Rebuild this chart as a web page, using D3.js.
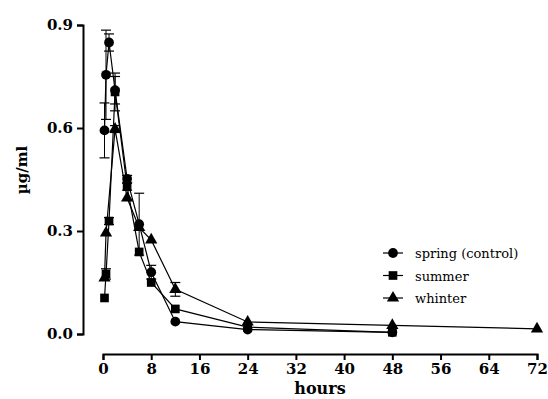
<!DOCTYPE html>
<html>
<head>
<meta charset="utf-8">
<script src="https://cdn.jsdelivr.net/npm/d3@7"></script>
<style>
  body { margin: 0; background: #fff; }
  .tick text { font-weight: bold; font-size: 15px; fill: #000; }
  .domain, .tick line { stroke: #000; stroke-width: 2px; }
</style>
</head>
<body>
<div id="chart"></div>
<script>
// time points (hours) and mean concentration (µg/ml) per season
var springTimes = [0.25, 0.5, 1, 2, 4, 6, 8, 12, 24, 48];
var springValues = [0.593, 0.755, 0.849, 0.71, 0.452, 0.32, 0.18, 0.036, 0.013, 0.005];
var springErr = [0.08, 0.13, 0.025, 0.04, 0.01, 0.09, 0.02, 0, 0, 0];

var summerTimes = [0.25, 0.5, 1, 2, 4, 6, 8, 12, 24, 48];
var summerValues = [0.105, 0.175, 0.329, 0.705, 0.429, 0.239, 0.15, 0.073, 0.02, 0.005];
var summerErr = [0, 0.015, 0.01, 0.055, 0.01, 0, 0, 0, 0, 0];

var winterTimes = [0.25, 0.5, 2, 4, 6, 8, 12, 24, 48, 72];
var winterValues = [0.163, 0.294, 0.597, 0.396, 0.31, 0.274, 0.13, 0.035, 0.025, 0.015];
var winterErr = [0, 0, 0.01, 0, 0, 0, 0.02, 0, 0, 0];

var xTicks = [0, 8, 16, 24, 32, 40, 48, 56, 64, 72];
var yTicks = [0, 0.3, 0.6, 0.9];

var seriesNames = ["spring (control)", "summer", "whinter"];

var width = 548, height = 399;
var serif = "DejaVu Serif";

var svg = d3.select("#chart").append("svg")
    .attr("width", width)
    .attr("height", height);

var x = d3.scaleLinear().domain([0, 72]).range([103, 537]);
var y = d3.scaleLinear().domain([0, 0.9]).range([334, 25]);

// axes (offset, prism style)
var xAxis = svg.append("g")
    .attr("transform", "translate(0,354)")
    .call(d3.axisBottom(x).tickValues(xTicks).tickSize(6).tickPadding(3).tickFormat(d3.format("d")));

var yAxis = svg.append("g")
    .attr("transform", "translate(83,0)")
    .call(d3.axisLeft(y).tickValues(yTicks).tickSize(6).tickPadding(4).tickFormat(d3.format(".1f")));

svg.selectAll(".tick text").style("font-family", serif);
svg.selectAll(".domain").attr("fill", "none");

svg.append("text")
    .attr("x", 320).attr("y", 394)
    .attr("text-anchor", "middle")
    .style("font-family", serif)
    .style("font-weight", "bold")
    .style("font-size", "16px")
    .text("hours");

svg.append("text")
    .attr("transform", "translate(27,170) rotate(-90)")
    .attr("text-anchor", "middle")
    .style("font-family", serif)
    .style("font-weight", "bold")
    .style("font-size", "15px")
    .text("µg/ml");

var series = [
    { name: seriesNames[0], t: springTimes, v: springValues, e: springErr, sym: d3.symbolCircle, size: 75 },
    { name: seriesNames[1], t: summerTimes, v: summerValues, e: summerErr, sym: d3.symbolSquare, size: 75 },
    { name: seriesNames[2], t: winterTimes, v: winterValues, e: winterErr, sym: d3.symbolTriangle, size: 65 }
];

var line = d3.line()
    .x(function (d) { return x(d[0]); })
    .y(function (d) { return y(d[1]); });

series.forEach(function (s) {
    var pts = s.t.map(function (t, i) { return [t, s.v[i], s.e[i]]; });
    var g = svg.append("g");

    // error bars (up and down)
    pts.filter(function (d) { return d[2] > 0; }).forEach(function (d) {
        var cx = x(d[0]);
        g.append("line")
            .attr("x1", cx).attr("x2", cx)
            .attr("y1", y(d[1] - d[2])).attr("y2", y(d[1] + d[2]))
            .attr("stroke", "#000").attr("stroke-width", 1);
        [d[1] - d[2], d[1] + d[2]].forEach(function (v) {
            g.append("line")
                .attr("x1", cx - 5).attr("x2", cx + 5)
                .attr("y1", y(v)).attr("y2", y(v))
                .attr("stroke", "#000").attr("stroke-width", 1.2);
        });
    });

    g.append("path")
        .attr("d", line(pts))
        .attr("fill", "none")
        .attr("stroke", "#000")
        .attr("stroke-width", 1.2);

    g.selectAll(".pt")
        .data(pts)
        .enter().append("path")
        .attr("transform", function (d) { return "translate(" + x(d[0]) + "," + y(d[1]) + ")"; })
        .attr("d", d3.symbol().type(s.sym).size(s.size))
        .attr("fill", "#000");
});

// legend
var legend = svg.append("g");
series.forEach(function (s, i) {
    var ly = 253 + i * 22.5;
    legend.append("line")
        .attr("x1", 383).attr("x2", 403)
        .attr("y1", ly).attr("y2", ly)
        .attr("stroke", "#000").attr("stroke-width", 1.2);
    legend.append("path")
        .attr("transform", "translate(393," + ly + ")")
        .attr("d", d3.symbol().type(s.sym).size(s.size))
        .attr("fill", "#000");
    legend.append("text")
        .attr("x", 415).attr("y", ly + 5)
        .style("font-family", serif)
        .style("font-size", "13px")
        .text(s.name);
});
</script>
</body>
</html>
